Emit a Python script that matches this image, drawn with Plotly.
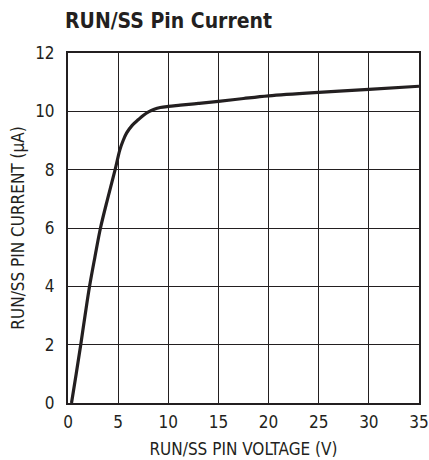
import plotly.graph_objects as go

voltage = [0.35, 0.82, 1.27, 1.7, 2.15, 2.68, 3.24, 3.95, 4.7, 5.17, 5.5, 5.85, 6.4, 7.03, 7.5, 8.03, 8.6, 9.2, 10.0, 11.2, 13.0, 15.0, 17.5, 20.0, 25.0, 30.0, 35.0]
current = [0.0, 1.0, 2.0, 3.0, 4.0, 5.0, 6.0, 7.0, 8.0, 8.68, 9.0, 9.26, 9.52, 9.72, 9.86, 9.98, 10.07, 10.13, 10.17, 10.21, 10.27, 10.34, 10.44, 10.53, 10.65, 10.75, 10.86]

x_ticks = [0, 5, 10, 15, 20, 25, 30, 35]
y_ticks = [0, 2, 4, 6, 8, 10, 12]

font_family = "DejaVu Sans Condensed, Liberation Sans Narrow, Arial Narrow, sans-serif"
ink = "#231f20"

fig = go.Figure()
fig.add_trace(go.Scatter(
    x=voltage, y=current, mode="lines",
    line=dict(color=ink, width=3.2, shape="spline", smoothing=1.0),
    showlegend=False, hoverinfo="skip"))

fig.update_layout(
    width=429, height=460,
    margin=dict(l=68, r=10, t=53, b=57, autoexpand=False),
    paper_bgcolor="white", plot_bgcolor="white",
    font=dict(family=font_family, color=ink, size=17),
    title=dict(text="<b>RUN/SS Pin Current</b>", x=65/429, xanchor="left", y=1 - 21/460, yanchor="middle",
               font=dict(family=font_family, size=21, color=ink)),
    xaxis=dict(range=[0, 35], tickvals=x_ticks, ticktext=[str(v) for v in x_ticks],
               showgrid=True, gridcolor=ink, gridwidth=1,
               showline=True, linecolor=ink, linewidth=2, mirror=True,
               zeroline=False, ticks="", ticklen=0, automargin=False,
               ticklabelstandoff=3,
               title=dict(text="RUN/SS PIN VOLTAGE (V)", standoff=12, font=dict(size=17)),
               tickfont=dict(size=17)),
    yaxis=dict(range=[0, 12], tickvals=y_ticks, ticktext=[str(v) for v in y_ticks],
               showgrid=True, gridcolor=ink, gridwidth=1,
               showline=True, linecolor=ink, linewidth=2, mirror=True,
               zeroline=False, ticks="", ticklen=0, automargin=False,
               ticklabelstandoff=8,
               title=dict(text="RUN/SS PIN CURRENT (μA)", standoff=6, font=dict(size=17)),
               tickfont=dict(size=17)),
)

fig.write_html("out.html", config={"displayModeBar": False, "staticPlot": True},
               post_script="document.body.style.margin='0';")
